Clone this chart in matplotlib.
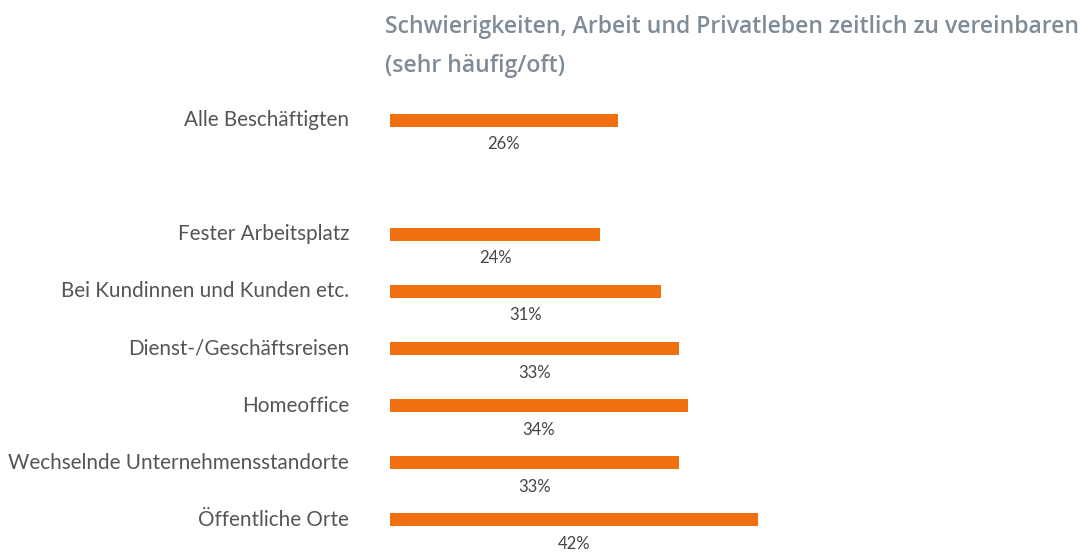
import matplotlib
matplotlib.use("Agg")
import matplotlib.pyplot as plt

categories = ["Alle Beschäftigten", "", "Fester Arbeitsplatz", "Bei Kundinnen und Kunden etc.",
              "Dienst-/Geschäftsreisen", "Homeoffice", "Wechselnde Unternehmensstandorte",
              "Öffentliche Orte"]
values = [26, None, 24, 31, 33, 34, 33, 42]
title_lines = ["Schwierigkeiten, Arbeit und Privatleben zeitlich zu vereinbaren", "(sehr häufig/oft)"]

W, H = 1088, 556
fig = plt.figure(figsize=(W / 100, H / 100), dpi=100)
fig.patch.set_facecolor("white")

x0 = 390
px_per = 8.75
ax = fig.add_axes([x0 / W, 0, (W - x0) / W, 1])
ax.set_xlim(0, (W - x0) / px_per)
spacing = 57.14
top_c = 120
ax.set_ylim((H - top_c) / spacing, -top_c / spacing)
ax.axis("off")

font = "Lato"
bar_color = "#f07010"
for i, (cat, v) in enumerate(zip(categories, values)):
    if v is None:
        continue
    ax.barh(i, v, height=13 / spacing, color=bar_color, left=0)
    ax.text(v / 2, i + 0.42, f"{v}%", ha="center", va="center", fontsize=12,
            color="#444444", family=font)
    ax.text(-41 / px_per, i, cat, ha="right", va="center", fontsize=14.9,
            color="#555555", family=font)

fig.text(385 / W, 1 - 27 / H, title_lines[0], ha="left", va="center", fontsize=16.6,
         color="#7f8b97", family="Open Sans", weight="semibold")
fig.text(385 / W, 1 - 66 / H, title_lines[1], ha="left", va="center", fontsize=16.6,
         color="#7f8b97", family="Open Sans", weight="semibold")

fig.savefig("out.png", dpi=100, facecolor="white")
